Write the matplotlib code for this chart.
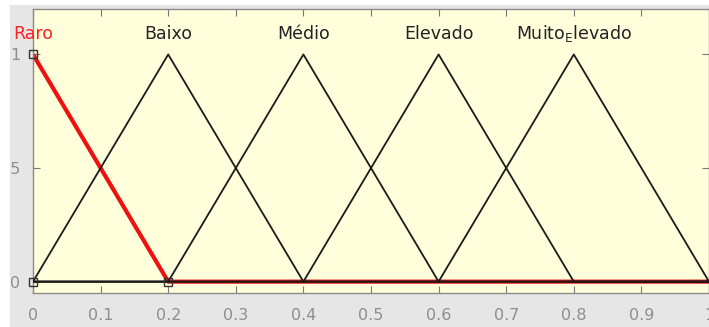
import numpy as np
import matplotlib
matplotlib.use("Agg")
import matplotlib.pyplot as plt
from matplotlib.patches import Rectangle

# Membership functions (triangular: a, b, c)
mf_names = ["Raro", "Baixo", "Médio", "Elevado", r"Muito$_{\mathrm{E}}$levado"]
mf_params = [
    [0.0, 0.0, 0.2],
    [0.0, 0.2, 0.4],
    [0.2, 0.4, 0.6],
    [0.4, 0.6, 0.8],
    [0.6, 0.8, 1.0],
]
highlighted = 0
x_ticks = [0, 0.1, 0.2, 0.3, 0.4, 0.5, 0.6, 0.7, 0.8, 0.9, 1]
x_ticklabels = ["0", "0.1", "0.2", "0.3", "0.4", "0.5", "0.6", "0.7", "0.8", "0.9", "1"]
y_ticks = [0, 0.5, 1]
y_ticklabels = ["0", "0.5", "1"]

W, H = 709, 327
fig = plt.figure(figsize=(W / 100, H / 100), dpi=100, facecolor="#e6e6e7")

ax = fig.add_axes([33 / W, (H - 293) / H, 676 / W, 284 / H])
ax.set_facecolor("#ffffdc")

for i, (name, p) in enumerate(zip(mf_names, mf_params)):
    a, b, c = p
    if i == highlighted:
        # selected function: thick red curve with vertex handles
        xs = [b, c, 1.0] if a == b else [0.0, a, b, c, 1.0]
        ys = [1.0, 0.0, 0.0] if a == b else [0.0, 0.0, 1.0, 0.0, 0.0]
        ax.plot(xs, ys, color="#ee1111", lw=3.0, zorder=2,
                solid_capstyle="butt")
        ax.plot([a, b, c], [0.0, 1.0, 0.0],
                ls="none", marker="s", ms=6, mfc="none", mec="#333333",
                mew=1.0, zorder=4, clip_on=False)
        ax.text(b, 1.09, name, color="#ff2222", ha="center", va="center",
                fontsize=12.5, clip_on=False)
    else:
        ax.plot([0.0, a, b, c, 1.0], [0.0, 0.0, 1.0, 0.0, 0.0],
                color="#1a1a1a", lw=1.3, zorder=3)
        ax.text(b, 1.09, name, color="#222222", ha="center", va="center",
                fontsize=12.5)

ax.set_xlim(0, 1)
ax.set_ylim(-0.05, 1.2)
ax.set_xticks(x_ticks)
ax.set_xticklabels(x_ticklabels)
ax.set_yticks(y_ticks)
ax.set_yticklabels(y_ticklabels)
ax.tick_params(axis="both", direction="in", length=5, width=0.8,
               color="#777777", labelcolor="#8e8e8e", labelsize=11.5,
               top=True, right=True)
ax.tick_params(axis="x", pad=11)
ax.tick_params(axis="y", pad=9)
for s in ax.spines.values():
    s.set_color("#8a8a8a")
    s.set_linewidth(1.0)

# thin white border around the window, drawn over everything beneath it
fig.patches.append(Rectangle((0, 0), 10 / W, 1, transform=fig.transFigure,
                             facecolor="white", edgecolor="none", zorder=10))
fig.patches.append(Rectangle((0, 1 - 5 / H), 1, 5 / H, transform=fig.transFigure,
                             facecolor="white", edgecolor="none", zorder=10))

fig.savefig("out.png", dpi=100, facecolor=fig.get_facecolor())
